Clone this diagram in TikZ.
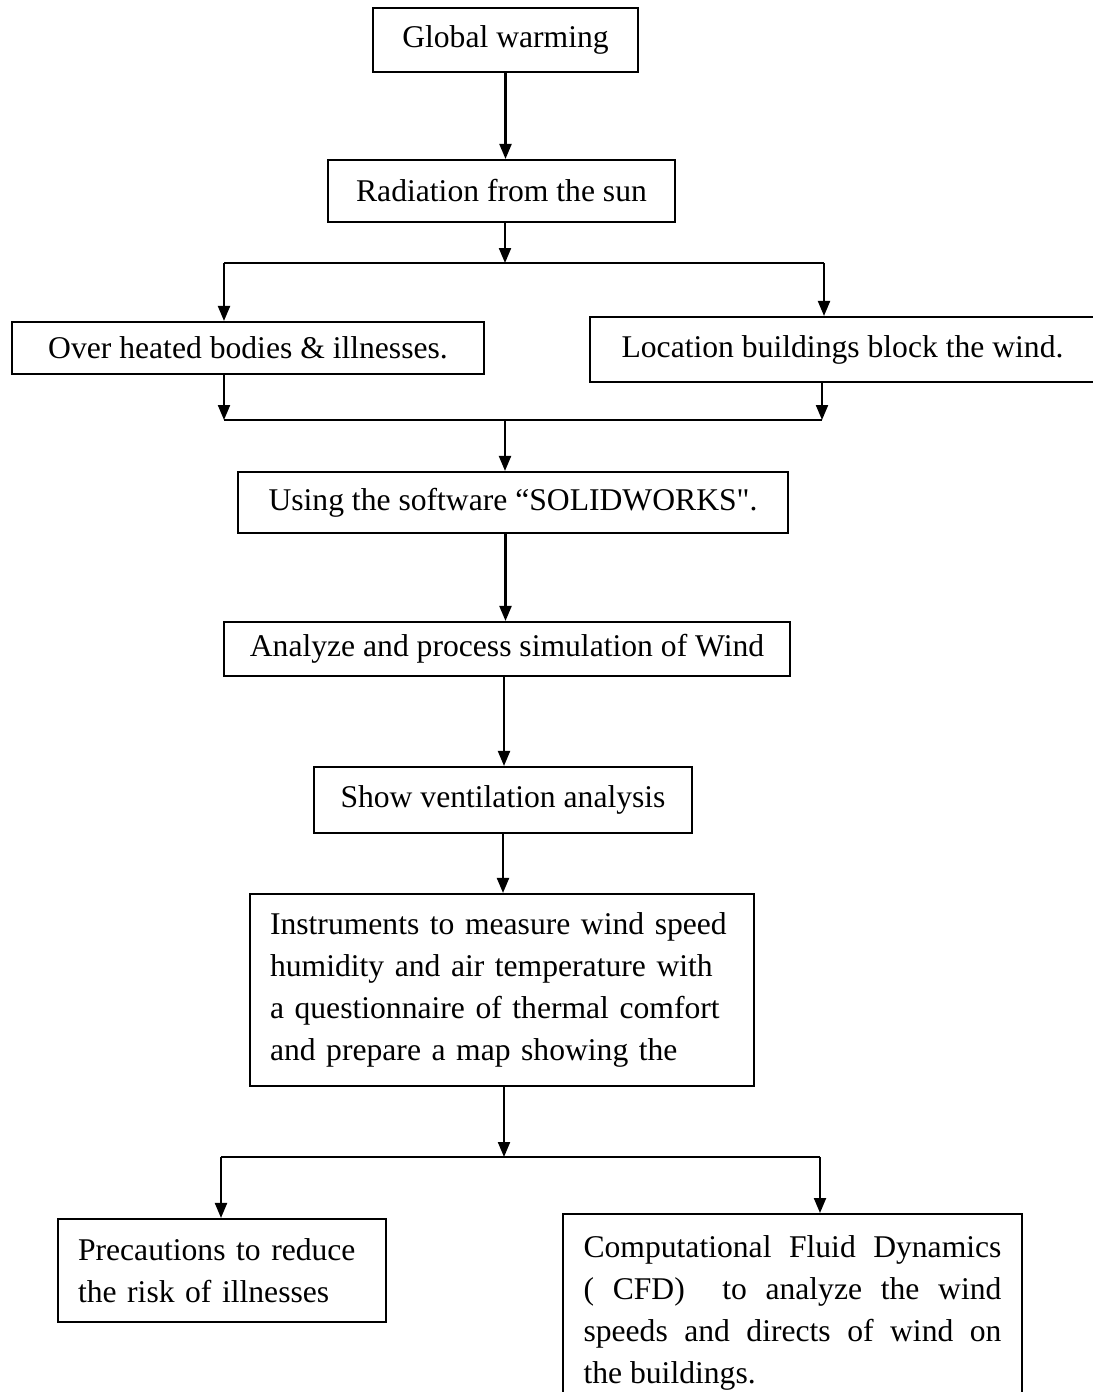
\documentclass[tikz,border=0pt]{standalone}
\usepackage{fontspec}
\setmainfont{Liberation Serif}[Ligatures=TeXOff]
\usetikzlibrary{arrows.meta}

\tikzset{
    box/.style={draw, line width=1.2pt, inner sep=0pt, align=center, font=\fontsize{18}{24}\selectfont},
    link/.style={line width=1.2pt, -{Triangle[length=0.3cm, width=0.24cm]}},
    bar/.style={line width=1.2pt}
}

\begin{document}
\begin{tikzpicture}[x=0.02cm, y=-0.02cm]
    \useasboundingbox (0,0) rectangle (1092,1392);

    % boxes
    \node[box, minimum width=5.3cm, minimum height=1.28cm] (glob) at (505.5,40) {Global warming};
    \node[box, minimum width=6.94cm, minimum height=1.24cm] (rad) at (501.5,191) {Radiation from the sun};
    \node[box, minimum width=9.44cm, minimum height=1.04cm] (heat) at (248,348) {Over heated bodies \& illnesses.};
    \node[box, minimum width=10.1cm, minimum height=1.3cm] (loc) at (842.5,349.5) {Location buildings block the wind.};
    \node[box, minimum width=11cm, minimum height=1.22cm] (soft) at (513,502.5) {Using the software “SOLIDWORKS".};
    \node[box, minimum width=11.32cm, minimum height=1.08cm] (anal) at (507,649) {Analyze and process simulation of Wind};
    \node[box, minimum width=7.56cm, minimum height=1.32cm] (show) at (503,800) {Show ventilation analysis};
    \node[box, align=left, text width=9.28cm, inner xsep=0.4cm, minimum height=3.84cm] (instr) at (502,990)
        {Instruments to measure wind speed\\ humidity and air temperature with\\ a questionnaire of thermal comfort\\ and prepare a map showing the};
    \node[box, align=left, text width=5.76cm, inner xsep=0.4cm, minimum height=2.06cm] (prec) at (222,1270.5)
        {Precautions to reduce\\ the risk of illnesses};
    \node[box, align=justify, text width=8.36cm, inner xsep=0.41cm, minimum height=3.96cm, anchor=north] (cfd) at (792.5,1213)
        {Computational Fluid Dynamics\linebreak ( CFD)~ to analyze the wind\linebreak speeds and directs of wind on\linebreak the buildings.};

    % branch points
    \coordinate (ja) at (505,263);
    \coordinate (jaL) at (224,263);
    \coordinate (jaR) at (824,263);
    \coordinate (jb) at (505,420);
    \coordinate (jbL) at (224,420);
    \coordinate (jbR) at (822,420);
    \coordinate (jc) at (504,1157);
    \coordinate (jcL) at (221,1157);
    \coordinate (jcR) at (820,1157);

    % connectors
    \draw[link] (glob.south) -- (glob.south |- rad.north);
    \draw[link] (rad.south -| ja) -- (ja);
    \draw[bar] (jaL) -- (jaR);
    \draw[link] (jaL) -- (jaL |- heat.north);
    \draw[link] (jaR) -- (jaR |- loc.north);
    \draw[link] (jbL |- heat.south) -- (jbL);
    \draw[link] (jbR |- loc.south) -- (jbR);
    \draw[bar] (jbL) -- (jbR);
    \draw[link] (jb) -- (jb |- soft.north);
    \draw[link] (soft.south -| glob.south) -- (glob.south |- anal.north);
    \draw[link] (anal.south -| jc) -- (jc |- show.north);
    \draw[link] (show.south) -- (show.south |- instr.north);
    \draw[link] (instr.south -| jc) -- (jc);
    \draw[bar] (jcL) -- (jcR);
    \draw[link] (jcL) -- (jcL |- prec.north);
    \draw[link] (jcR) -- (jcR |- cfd.north);
\end{tikzpicture}
\end{document}
